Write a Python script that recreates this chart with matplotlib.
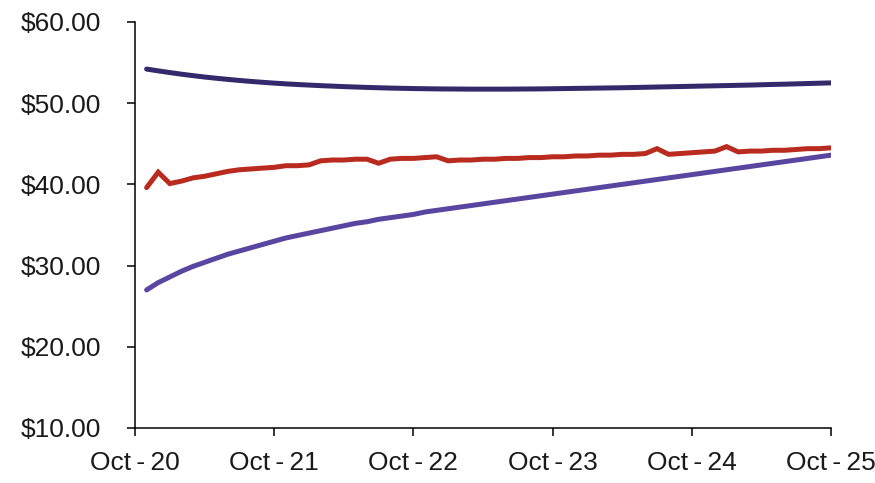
import numpy as np
import matplotlib.pyplot as plt

plt.rcParams['font.family'] = ['Liberation Sans', 'DejaVu Sans']

# months since Oct-20 (first point is Nov-20, last Oct-25)
months = np.arange(1, 61)
tick_months = [0, 12, 24, 36, 48, 60]
tick_labels = ['Oct\u2009-\u200920', 'Oct\u2009-\u200921', 'Oct\u2009-\u200922',
               'Oct\u2009-\u200923', 'Oct\u2009-\u200924', 'Oct\u2009-\u200925']

upper = [54.20, 53.98, 53.77, 53.57, 53.39, 53.22, 53.07, 52.93, 52.80, 52.68,
         52.57, 52.47, 52.38, 52.30, 52.23, 52.16, 52.10, 52.04, 51.99, 51.94,
         51.90, 51.86, 51.83, 51.80, 51.78, 51.76, 51.75, 51.74, 51.73, 51.73,
         51.73, 51.73, 51.74, 51.75, 51.76, 51.78, 51.80, 51.82, 51.84, 51.86,
         51.88, 51.90, 51.93, 51.96, 51.99, 52.02, 52.05, 52.08, 52.11, 52.14,
         52.17, 52.20, 52.23, 52.27, 52.31, 52.34, 52.38, 52.42, 52.46, 52.50]

middle = [39.6, 41.5, 40.1, 40.4, 40.8, 41.0, 41.3, 41.6, 41.8, 41.9,
          42.0, 42.1, 42.3, 42.3, 42.4, 42.9, 43.0, 43.0, 43.1, 43.1,
          42.6, 43.1, 43.2, 43.2, 43.3, 43.4, 42.9, 43.0, 43.0, 43.1,
          43.1, 43.2, 43.2, 43.3, 43.3, 43.4, 43.4, 43.5, 43.5, 43.6,
          43.6, 43.7, 43.7, 43.8, 44.4, 43.7, 43.8, 43.9, 44.0, 44.1,
          44.65, 44.0, 44.1, 44.1, 44.2, 44.2, 44.3, 44.4, 44.4, 44.5]

lower = [27.0, 27.9, 28.6, 29.3, 29.9, 30.4, 30.9, 31.4, 31.8, 32.2,
         32.6, 33.0, 33.4, 33.7, 34.0, 34.3, 34.6, 34.9, 35.2, 35.4,
         35.7, 35.9, 36.1, 36.3, 36.6, 36.8, 37.0, 37.2, 37.4, 37.6,
         37.8, 38.0, 38.2, 38.4, 38.6, 38.8, 39.0, 39.2, 39.4, 39.6,
         39.8, 40.0, 40.2, 40.4, 40.6, 40.8, 41.0, 41.2, 41.4, 41.6,
         41.8, 42.0, 42.2, 42.4, 42.6, 42.8, 43.0, 43.2, 43.4, 43.6]

fig = plt.figure(figsize=(8.75, 4.83), dpi=100)
ax = fig.add_axes([0.1543, 0.1139, 0.7954, 0.8406])

lw = 3.6
for series, color in [(upper, '#33296b'), (middle, '#b82b1e'),
                      (lower, '#5a46a0')]:
    ax.plot(months, series, color=color, linewidth=lw,
            solid_capstyle='round', solid_joinstyle='miter')

ax.set_xlim(0, 60)
ax.set_ylim(10, 60)
ax.set_xticks(tick_months)
ax.set_xticklabels(tick_labels)
ax.set_yticks(np.arange(10, 61, 10))
ax.set_yticklabels([f'${v:.2f}' for v in np.arange(10, 61, 10)])

for side in ['top', 'right']:
    ax.spines[side].set_visible(False)
for side in ['left', 'bottom']:
    ax.spines[side].set_linewidth(1.1)
    ax.spines[side].set_color('black')

ax.tick_params(axis='both', direction='out', length=5.5, width=1.1,
               labelsize=19, colors='black')
ax.tick_params(axis='y', pad=19)
ax.tick_params(axis='x', pad=11)
for lab in ax.get_xticklabels() + ax.get_yticklabels():
    lab.set_color('#1a1a1a')

fig.savefig('out.png', dpi=100)
